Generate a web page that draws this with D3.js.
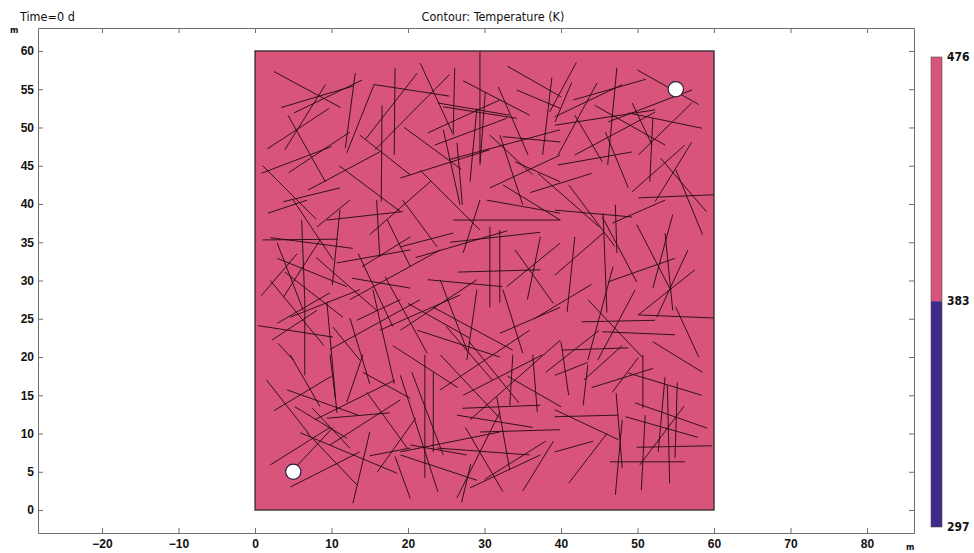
<!DOCTYPE html>
<html>
<head>
<meta charset="utf-8">
<script src="https://cdn.jsdelivr.net/npm/d3@7"></script>
<style>
  html, body { margin: 0; padding: 0; background: #fff; }
  svg { display: block; font-family: "DejaVu Sans Condensed", "DejaVu Sans", sans-serif; }
</style>
</head>
<body>
<svg id="chart" width="974" height="553"></svg>
<script>
// Axis tick values (m)
const xTickValues = [-20, -10, 0, 10, 20, 30, 40, 50, 60, 70, 80];
const yTickValues = [0, 5, 10, 15, 20, 25, 30, 35, 40, 45, 50, 55, 60];

// Model domain (m)
const domainBox = [0, 0, 60, 60];

// Wells: [x, y, radius] in m
const wells = [[5, 5, 1.0], [55, 55, 1.0]];

// Temperature colour legend (K)
const legendValues = [476, 383, 297];
const legendBands = [
  { from: 383, to: 476, color: "#d8547a" },
  { from: 297, to: 383, color: "#3f2a89" }
];
const domainTemperature = 476;

// Fracture traces: [x1, y1, x2, y2] in m
const fractures = [
  [2.5,57.3,11.2,52.6],[3.4,52.6,12.8,55.4],[5.1,51.9,14.0,56.2],[3.9,47.1,9.2,55.6],
  [1.6,47.2,9.7,52.5],[4.3,51.6,9.2,42.9],[13.1,57.1,11.8,47.3],[15.6,55.7,12.0,46.7],
  [15.6,55.6,25.4,54.1],[4.4,44.1,12.4,49.4],[6.9,41.8,16.3,46.8],[3.7,40.3,11.1,42.1],
  [13.7,49.0,20.3,43.8],[18.3,57.8,18.2,46.4],[16.6,52.9,16.5,40.3],[14.4,48.4,21.2,57.1],
  [25.4,56.9,15.7,47.1],
  [21.6,58.4,25.8,49.3],[26.1,57.8,25.9,49.0],[29.4,59.9,29.4,45.5],[27.2,56.1,35.9,51.6],
  [23.9,53.2,33.3,51.6],[24.6,52.7,34.2,51.2],[22.6,49.3,32.0,53.6],[23.5,47.7,32.9,51.2],
  [29.0,52.5,28.1,42.9],[30.1,54.6,29.4,45.1],[31.8,55.3,35.7,46.4],[34.2,54.9,39.9,52.5],
  [38.8,56.5,37.6,46.4],[32.4,48.8,39.9,48.1],[30.7,49.0,36.3,43.8],[32.0,49.0,35.0,39.9],
  [24.6,49.7,26.8,39.9],[26.4,48.0,27.1,39.9],[19.0,43.4,30.7,47.1],[34.0,45.5,39.9,42.9],
  [30.7,42.1,39.9,46.4],
  [41.6,53.6,51.1,56.3],[39.2,51.4,48.0,55.6],[47.3,57.8,46.1,45.1],[44.7,55.8,39.6,46.4],
  [41.4,55.9,39.2,50.7],[39.2,50.3,52.3,52.3],[44.4,52.9,53.6,47.7],[49.3,53.2,51.9,47.7],
  [48.8,51.9,58.4,49.9],[57.1,54.9,46.1,50.7],[57.1,53.2,50.1,46.4],[52.3,52.0,41.8,46.4],
  [39.6,45.1,49.3,46.8],[41.8,51.6,45.4,45.5],[52.0,51.2,51.6,42.9],[57.1,48.1,52.3,40.3],
  [56.2,47.7,49.3,41.6],[50.1,40.8,60.0,41.2],[45.8,49.4,48.8,42.1],
  [1.7,38.8,6.8,40.5],[1.0,35.3,10.8,35.4],[2.0,35.6,12.8,34.2],[2.9,34.9,6.3,26.1],
  [6.1,37.9,6.5,27.5],[11.1,39.2,10.1,29.4],[2.9,32.9,12.0,29.2],[3.9,31.1,11.5,25.2],
  [9.4,37.9,19.3,39.0],[8.1,37.0,12.4,40.5],[8.5,35.3,3.7,27.8],[4.6,25.2,13.7,28.8],
  [2.9,24.4,9.8,28.4],[10.7,32.3,20.3,34.0],[12.7,30.3,20.3,29.0],[13.3,24.8,19.0,27.5],
  [0.4,24.1,10.2,22.6],[2.2,22.2,8.1,26.1],[6.5,27.5,6.5,17.6],[9.4,27.1,10.7,12.7],
  [3.0,21.8,5.0,19.6],[10.2,23.9,13.7,19.6],[12.4,25.1,15.0,16.5],[15.4,28.8,18.2,16.5],
  [15.9,40.5,16.3,33.1],[14.0,31.8,20.3,35.7],[5.0,40.5,10.2,32.7],[17.3,37.9,20.3,31.8],
  [25.5,35.0,37.3,36.3],[26.5,31.1,37.3,31.4],[22.6,30.1,32.3,29.2],[30.7,37.0,30.7,26.5],
  [32.0,36.6,32.0,27.1],[29.4,40.5,27.2,33.6],[19.3,40.5,23.8,34.4],[19.0,34.4,25.9,36.2],
  [24.2,30.1,27.7,20.9],[19.0,23.5,29.0,30.1],[23.3,26.5,33.7,20.9],[32.9,29.2,39.9,34.9],
  [29.0,28.8,27.7,19.6],[32.4,28.8,35.0,20.5],[25.9,37.9,39.9,37.9],[30.3,40.5,39.9,38.8],
  [37.3,35.7,35.6,27.5],[32.0,23.1,39.9,26.5],[21.2,23.5,32.0,20.0],
  [39.2,39.2,49.3,38.3],[46.7,37.5,53.6,40.5],[45.5,38.8,46.0,25.8],[45.4,38.3,49.9,29.8],
  [49.9,37.3,54.2,29.0],[53.6,36.2,54.6,26.1],[54.6,38.6,52.0,29.0],[56.6,34.0,52.5,25.2],
  [57.5,31.4,50.1,25.5],[46.1,29.8,54.9,32.9],[41.8,35.7,40.8,25.9],[45.5,36.2,39.2,30.7],
  [47.1,39.9,47.3,33.6],[50.1,25.5,60.0,25.1],[42.7,24.6,52.3,24.8],[45.4,23.3,54.9,22.9],
  [43.5,27.5,50.6,20.0],[49.7,28.8,44.8,19.6],[40.1,20.9,48.8,21.2],[46.8,31.8,43.5,19.6],
  [4.2,15.7,13.5,12.4],[5.2,13.5,12.0,9.4],[2.0,5.9,9.8,10.8],[5.9,10.1,18.6,4.8],
  [4.6,3.0,13.7,7.6],[6.8,10.1,13.3,3.3],[7.5,13.3,12.4,8.1],[9.8,20.3,10.5,14.6],
  [4.6,20.3,8.5,13.5],[12.0,14.1,14.1,20.3],[14.6,15.4,19.9,8.1],[15.0,10.2,12.8,0.9],
  [5.6,5.9,10.2,10.8],[9.4,12.0,17.6,12.7],[14.1,18.0,20.3,14.6],[15.0,7.1,20.3,8.1],
  [9.8,8.5,19.0,14.4],[7.8,11.8,18.3,17.0],
  [22.2,20.3,22.2,4.2],[19.0,17.6,23.9,2.4],[24.2,20.3,32.0,12.0],[27.1,13.3,37.3,13.7],
  [26.4,12.4,36.3,10.8],[19.0,7.6,32.0,10.2],[23.8,8.1,35.9,7.2],[27.5,10.8,32.4,2.4],
  [19.0,7.2,29.0,3.9],[26.4,1.6,32.0,12.8],[28.1,2.9,37.3,7.2],[29.4,10.2,39.9,10.5],
  [31.6,14.8,33.3,5.2],[27.2,15.0,37.6,20.3],[33.7,20.3,33.3,13.7],[36.3,20.3,36.9,12.8],
  [20.5,18.0,24.6,7.2],[20.3,8.5,27.7,7.2],[23.3,18.0,23.3,7.6],
  [20.3,1.5,18.3,7.0],[27.0,1.0,28.2,6.0],
  [48.8,17.9,58.4,15.0],[49.7,14.0,59.1,10.7],[48.4,12.2,57.9,9.5],[39.2,12.2,47.5,12.4],
  [39.2,13.1,47.5,9.2],[39.2,7.6,44.2,9.0],[46.4,6.3,56.2,6.3],[49.9,8.2,59.7,8.4],
  [47.2,15.3,48.0,5.5],[48.0,11.8,47.1,2.0],[51.0,12.4,50.5,2.6],[50.7,20.3,50.7,13.3],
  [50.3,5.9,56.1,13.6],[53.6,17.4,52.7,7.6],[53.9,16.3,54.2,3.5],[55.2,16.7,54.9,6.8],
  [43.5,19.0,42.9,13.7],[50.1,19.9,46.7,15.4],[39.2,17.6,43.5,19.3],
  [21.0,33.0,33.0,36.5],[24.2,15.7,35.9,23.5],[28.1,11.8,39.9,22.2],[12.4,27.5,24.2,34.0],
  [9.8,21.0,21.6,27.5],[16.3,23.5,26.8,28.1],[25.4,45.8,39.9,49.7],[21.6,44.4,29.4,36.6],
  [32.4,42.5,39.9,37.9],[37.0,44.0,45.0,37.0],[1.0,45.0,8.0,38.0],[0.8,44.0,10.0,47.5],
  [11.0,45.0,19.0,39.0],[15.0,36.0,23.0,43.0],[19.5,50.0,27.0,44.5],[33.0,58.0,40.0,54.0],
  [42.0,58.5,38.5,52.0],[50.0,57.5,58.0,53.0],[53.0,46.0,59.0,39.0],[55.0,44.5,58.5,36.0],
  [41.0,42.5,47.0,34.5],[36.0,41.5,44.0,44.0],[2.0,30.0,9.0,21.5],[0.8,28.0,5.5,33.5],
  [8.0,33.0,16.0,26.0],[13.5,33.5,18.0,24.0],[17.0,30.5,22.5,20.5],[20.0,27.0,28.0,22.5],
  [34.0,34.0,39.0,27.0],[36.5,25.0,44.0,29.5],[38.0,18.0,45.0,23.5],[40.0,22.0,41.0,15.0],
  [43.0,17.0,48.0,21.5],[52.0,22.0,58.5,18.0],[55.0,26.5,58.0,20.0],[1.5,17.0,7.0,10.0],
  [2.5,13.0,10.0,17.5],[16.0,5.0,21.0,12.0],[30.0,4.0,38.0,9.0],[33.0,17.5,40.0,13.5],
  [35.0,2.5,39.0,9.0],[41.0,3.5,46.0,10.0],[44.0,16.0,52.0,18.5],[25.0,24.0,31.0,17.0],
  [28.0,22.0,34.5,14.0],[18.0,21.5,26.5,16.0]
];

const svg = d3.select("#chart");
const frame = { left: 38, right: 914, top: 28, bottom: 533 };

const x = d3.scaleLinear().domain([-28.37, 86.14]).range([frame.left, frame.right]);
const y = d3.scaleLinear().domain([-3.0, 63.0]).range([frame.bottom, frame.top]);

// Headings
svg.append("text").attr("x", 20).attr("y", 21)
  .attr("font-size", 12.5).attr("fill", "#111").text("Time=0 d");
svg.append("text").attr("x", 493).attr("y", 21).attr("text-anchor", "middle")
  .attr("font-size", 12.5).attr("fill", "#111").text("Contour: Temperature (K)");
svg.append("text").attr("x", 10).attr("y", 33)
  .attr("font-size", 9).attr("font-weight", "bold").attr("fill", "#111").text("m");
svg.append("text").attr("x", 906).attr("y", 550)
  .attr("font-size", 9).attr("font-weight", "bold").attr("fill", "#111").text("m");

// Temperature field over the domain
const temp = d3.scaleThreshold()
  .domain([legendBands[1].to])
  .range([legendBands[1].color, legendBands[0].color]);

svg.append("rect")
  .attr("x", x(domainBox[0])).attr("y", y(domainBox[3]))
  .attr("width", x(domainBox[2]) - x(domainBox[0]))
  .attr("height", y(domainBox[1]) - y(domainBox[3]))
  .attr("fill", temp(domainTemperature));

// Fractures
svg.append("g")
  .selectAll("line").data(fractures).join("line")
  .attr("x1", d => x(d[0])).attr("y1", d => y(d[1]))
  .attr("x2", d => x(d[2])).attr("y2", d => y(d[3]))
  .attr("stroke", "#1c0810").attr("stroke-width", 1).attr("stroke-opacity", 0.88);

// Domain outline
svg.append("rect")
  .attr("x", x(domainBox[0])).attr("y", y(domainBox[3]))
  .attr("width", x(domainBox[2]) - x(domainBox[0]))
  .attr("height", y(domainBox[1]) - y(domainBox[3]))
  .attr("fill", "none").attr("stroke", "#222").attr("stroke-width", 1.2);

// Wells
svg.append("g").selectAll("circle").data(wells).join("circle")
  .attr("cx", d => x(d[0])).attr("cy", d => y(d[1]))
  .attr("r", d => x(d[2]) - x(0))
  .attr("fill", "#fff").attr("stroke", "#2a1f40").attr("stroke-width", 1.2);

// Axes with inward ticks
function styleAxis(g) {
  g.select(".domain").attr("stroke", "#6e6e6e");
  g.selectAll(".tick line").attr("stroke", "#6e6e6e");
  g.selectAll(".tick text").attr("fill", "#111").attr("font-size", 12).attr("font-weight", "bold");
}
svg.append("g").attr("transform", `translate(0,${frame.bottom})`)
  .call(d3.axisBottom(x).tickValues(xTickValues).tickSizeInner(-5).tickSizeOuter(0).tickPadding(6))
  .call(styleAxis);
svg.append("g").attr("transform", `translate(0,${frame.top})`)
  .call(d3.axisTop(x).tickValues(xTickValues).tickSizeInner(-5).tickSizeOuter(0).tickFormat(""))
  .call(styleAxis);
svg.append("g").attr("transform", `translate(${frame.left},0)`)
  .call(d3.axisLeft(y).tickValues(yTickValues).tickSizeInner(-5).tickSizeOuter(0).tickPadding(4))
  .call(styleAxis);
svg.append("g").attr("transform", `translate(${frame.right},0)`)
  .call(d3.axisRight(y).tickValues(yTickValues).tickSizeInner(-5).tickSizeOuter(0).tickFormat(""))
  .call(styleAxis);

// Colour legend
const legend = { x: 931, w: 11, top: 57, bottom: 527 };
const ly = d3.scaleLinear().domain([d3.min(legendValues), d3.max(legendValues)])
  .range([legend.bottom, legend.top]);
svg.append("g").selectAll("rect").data(legendBands).join("rect")
  .attr("x", legend.x).attr("y", d => ly(d.to))
  .attr("width", legend.w).attr("height", d => ly(d.from) - ly(d.to))
  .attr("fill", d => d.color);
svg.append("rect").attr("x", legend.x).attr("y", legend.top)
  .attr("width", legend.w).attr("height", legend.bottom - legend.top)
  .attr("fill", "none").attr("stroke", "#555").attr("stroke-width", 0.6);
svg.append("g").selectAll("text").data(legendValues).join("text")
  .attr("x", legend.x + legend.w + 5).attr("y", d => ly(d)).attr("dy", "0.35em")
  .attr("font-size", 12).attr("font-weight", "bold").attr("fill", "#111")
  .text(d => d);
</script>
</body>
</html>
